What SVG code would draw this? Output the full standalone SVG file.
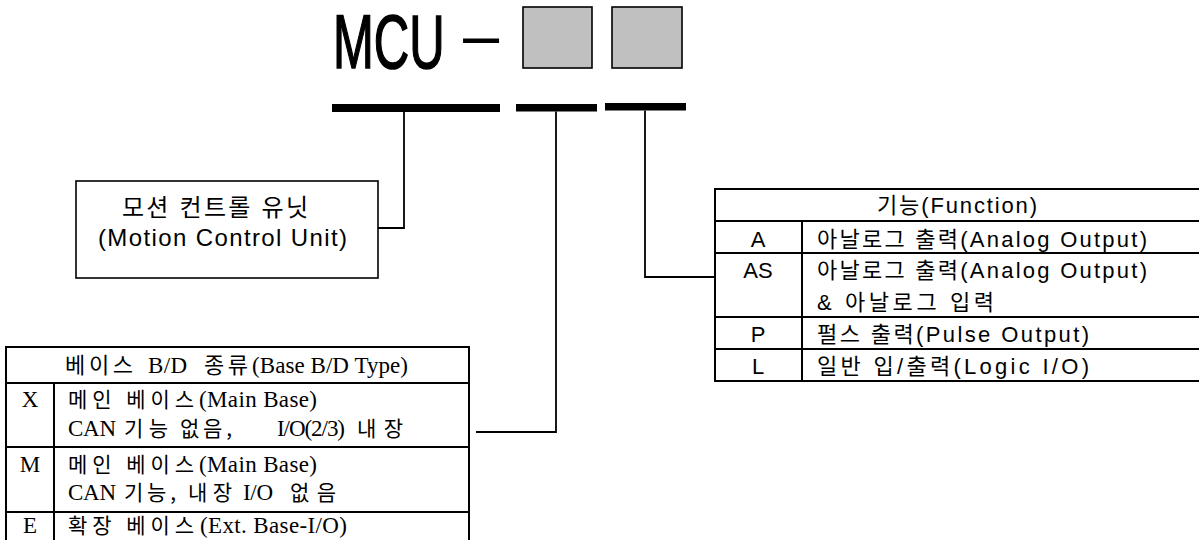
<svg xmlns="http://www.w3.org/2000/svg" width="1199" height="540" viewBox="0 0 1199 540">
<style>
.bg{fill:#ffffff}
.ln{stroke:#000;stroke-width:2;fill:none}
.cn{stroke:#000;stroke-width:1.8;fill:none}
.bar{fill:#000}
.sq{fill:#c0c0c0;stroke:#000;stroke-width:1.6}
.bx{fill:#fff;stroke:#000;stroke-width:1.6}
text{fill:#000}
.big{font-family:"Liberation Sans",Arial,sans-serif;font-size:76px}
.g{font-family:"Liberation Sans","Noto Sans CJK KR",sans-serif;font-size:22px}
.g24{font-family:"Liberation Sans","Noto Sans CJK KR",sans-serif;font-size:24px}
.tr{font-family:"Liberation Serif","Times New Roman",serif;font-size:23px}
.tk{font-family:"Noto Sans CJK KR",sans-serif;font-size:21px}
.tkh{font-family:"Noto Sans CJK KR",sans-serif;font-size:22px}
</style>
<rect class="bg" x="0" y="0" width="1199" height="540"/>

<g id="title">
  <text class="big" transform="matrix(0.645,0,0,1,333,68)" stroke="#000" stroke-width="1.6">MCU</text>
  <text class="big" transform="matrix(1.94,0,0,0.75,456.5,56)">-</text>
  <rect class="sq" x="523" y="7" width="69" height="61"/>
  <rect class="sq" x="612" y="7" width="70" height="61"/>
</g>

<g id="bars">
  <rect class="bar" x="332" y="104" width="168" height="8"/>
  <rect class="bar" x="516" y="104" width="81" height="7.5"/>
  <rect class="bar" x="605" y="103" width="81" height="7.5"/>
</g>

<g id="connectors">
  <path class="cn" d="M404,112 V228 H378"/>
  <path class="cn" d="M556,111.5 V432 H476"/>
  <path class="cn" d="M645,110.5 V277 H715"/>
</g>

<g id="unit-box">
  <rect class="bx" x="76" y="181" width="302" height="97"/>
  <text class="g24" x="122" y="216" textLength="186">모션 컨트롤 유닛</text>
  <text class="g24" x="98" y="246" textLength="249">(Motion Control Unit)</text>
</g>

<g id="base-table">
  <path class="ln" d="M6,541 V347 H469 V541"/>
  <path class="ln" d="M6,383 H469 M6,447 H469 M6,512 H469 M54,383 V541"/>
  <text class="tkh" x="65" y="373" textLength="68">베이스</text>
  <text class="tr" x="148" y="373" textLength="39">B/D</text>
  <text class="tkh" x="204" y="373" textLength="44">종류</text>
  <text class="tr" x="252" y="373" textLength="156">(Base B/D Type)</text>

  <text class="tr" x="30" y="407" text-anchor="middle">X</text>
  <text class="tk" x="68" y="407" textLength="126">메인 베이스</text>
  <text class="tr" x="199" y="407" textLength="118">(Main Base)</text>
  <text class="tr" x="68" y="436" textLength="48">CAN</text>
  <text class="tk" x="124" y="436" textLength="44">기능</text>
  <text class="tk" x="180" y="436" textLength="52">없음,</text>
  <text class="tr" x="277" y="436" textLength="68">I/O(2/3)</text>
  <text class="tk" x="357" y="436" textLength="46">내장</text>

  <text class="tr" x="30" y="472" text-anchor="middle">M</text>
  <text class="tk" x="68" y="472" textLength="126">메인 베이스</text>
  <text class="tr" x="199" y="472" textLength="118">(Main Base)</text>
  <text class="tr" x="68" y="500" textLength="48">CAN</text>
  <text class="tk" x="124" y="500" textLength="52">기능,</text>
  <text class="tk" x="188" y="500" textLength="44">내장</text>
  <text class="tr" x="243" y="500" textLength="30">I/O</text>
  <text class="tk" x="290" y="500" textLength="46">없음</text>

  <text class="tr" x="30" y="533" text-anchor="middle">E</text>
  <text class="tk" x="68" y="533" textLength="126">확장 베이스</text>
  <text class="tr" x="200" y="533" textLength="147">(Ext. Base-I/O)</text>
</g>

<g id="function-table">
  <path class="ln" d="M1200,189 H715 V381 H1200"/>
  <path class="ln" d="M715,221 H1200 M715,253 H1200 M715,317 H1200 M715,349 H1200 M802,221 V381"/>
  <text class="g" x="877" y="213" textLength="160">기능(Function)</text>
  <text class="g" x="758" y="247" text-anchor="middle">A</text>
  <text class="g" x="817" y="247" textLength="330">아날로그 출력(Analog Output)</text>
  <text class="g" x="758" y="278" text-anchor="middle">AS</text>
  <text class="g" x="817" y="278" textLength="330">아날로그 출력(Analog Output)</text>
  <text class="g" x="817" y="310" textLength="177">&amp; 아날로그 입력</text>
  <text class="g" x="758" y="342" text-anchor="middle">P</text>
  <text class="g" x="817" y="342" textLength="272">펄스 출력(Pulse Output)</text>
  <text class="g" x="758" y="374" text-anchor="middle">L</text>
  <text class="g" x="817" y="374" textLength="272">일반 입/출력(Logic I/O)</text>
</g>
</svg>
